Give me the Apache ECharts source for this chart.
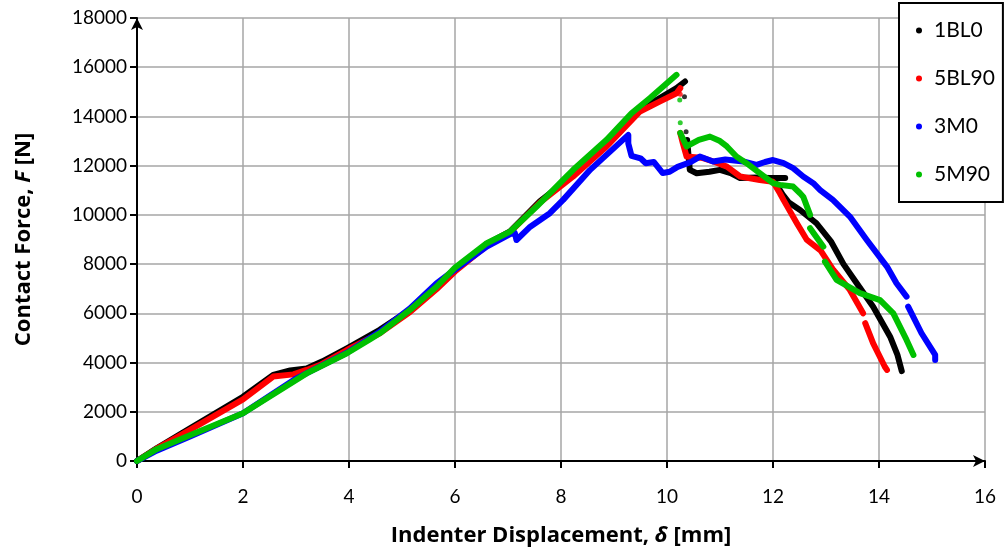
<!DOCTYPE html>
<html>
<head>
<meta charset="utf-8">
<script src="https://cdn.jsdelivr.net/npm/echarts@6/dist/echarts.min.js"></script>
<style>
  html, body { margin: 0; padding: 0; background: #fff; }
  #chart { width: 1008px; height: 553px; }
</style>
</head>
<body>
<div id="chart"></div>
<script>
// Indentation test: contact force vs indenter displacement, four specimens.
// null marks a break in the recorded trace.
const seriesNames = ['1BL0', '5BL90', '3M0', '5M90'];
const seriesColors = ['#000000', '#ff0000', '#0000ff', '#00c000'];

const xTicks = [0, 2, 4, 6, 8, 10, 12, 14, 16];
const yTicks = [0, 2000, 4000, 6000, 8000, 10000, 12000, 14000, 16000, 18000];

const curve1BL0 = [
  [0, 0], [0.37, 520], [1, 1330], [2, 2610], [2.57, 3500], [2.89, 3680], [3.2, 3760],
  [3.5, 4050], [3.96, 4580], [4.58, 5330], [5.15, 6150], [5.65, 7050], [6, 7750],
  [6.6, 8820], [7.04, 9330], [7.6, 10550], [8.23, 11620], [8.86, 12850], [9.49, 14270],
  [10.18, 15150], [10.34, 15420],
  null,
  [10.38, 13040], [10.43, 11830], [10.56, 11690], [10.8, 11750], [11, 11830], [11.2, 11700],
  [11.38, 11500], [11.7, 11520], [11.94, 11500], [12.23, 11500],
  null,
  [12.05, 11290], [12.19, 10800], [12.3, 10500], [12.51, 10200], [12.82, 9660], [13.1, 8900],
  [13.33, 8000], [13.58, 7220], [13.89, 6270], [14.21, 5050], [14.35, 4300], [14.43, 3650]
];
const curve5BL90 = [
  [0, 0], [0.37, 500], [1, 1260], [2, 2500], [2.57, 3430], [2.95, 3520], [3.2, 3700],
  [3.45, 3900], [3.96, 4510], [4.58, 5190], [5.15, 6050], [5.65, 6980], [6, 7700],
  [6.6, 8750], [7.04, 9300], [7.6, 10500], [8.23, 11560], [8.86, 12780], [9.49, 14200],
  [9.87, 14610], [10.18, 14940], [10.25, 15150],
  null,
  [10.25, 13330], [10.3, 12900], [10.37, 12370], [10.68, 12310], [10.9, 12150], [11.13, 11960],
  [11.38, 11560], [11.75, 11420], [12, 11350], [12.13, 10880], [12.2, 10600], [12.45, 9660],
  [12.64, 8980], [12.9, 8550], [13.14, 7760], [13.45, 6950], [13.7, 6000],
  null,
  [13.74, 5600], [13.89, 4780], [14.11, 3830], [14.15, 3700]
];
const curve3M0 = [
  [0, 0], [0.37, 420], [1, 1000], [2, 1940], [3, 3350], [3.96, 4400], [4.58, 5250],
  [5.15, 6200], [5.65, 7220], [6, 7780], [6.6, 8710], [7.04, 9220], [7.13, 9260],
  [7.16, 8980], [7.42, 9520], [7.79, 10070], [8.04, 10610], [8.55, 11830], [9.27, 13250],
  [9.27, 12900], [9.33, 12400], [9.5, 12300], [9.6, 12100], [9.75, 12150], [9.92, 11700],
  [10.05, 11750], [10.2, 11950], [10.45, 12150], [10.62, 12370], [10.87, 12170], [11.1, 12250],
  [11.44, 12170], [11.69, 12030], [11.85, 12150], [12, 12230], [12.2, 12100], [12.38, 11900],
  [12.57, 11560], [12.76, 11290], [12.89, 11010], [13.13, 10610], [13.45, 9930], [13.77, 8980],
  [14.15, 7900], [14.33, 7220], [14.52, 6680],
  null,
  [14.55, 6270], [14.8, 5200], [15.06, 4310], [15.06, 4100]
];
const curve5M90 = [
  [0, 0], [0.37, 480], [1, 1050], [2, 1940], [3.2, 3560], [3.96, 4380], [4.4, 4950],
  [4.58, 5190], [5.15, 6140], [5.65, 7080], [6, 7860], [6.6, 8850], [7.04, 9320],
  [7.54, 10340], [8.04, 11420], [8.23, 11830], [8.86, 13050], [9.33, 14130], [9.68, 14750],
  [10.18, 15690],
  null,
  [10.25, 13330], [10.37, 12780], [10.6, 13050], [10.81, 13180], [11, 13000], [11.13, 12780],
  [11.31, 12370], [11.5, 12100], [11.75, 11700], [12, 11290], [12.13, 11220], [12.38, 11150],
  [12.51, 10880], [12.57, 10740], [12.7, 10000],
  null,
  [12.7, 9460], [12.95, 8710],
  null,
  [12.98, 8100], [13.2, 7360], [13.64, 6820], [14.02, 6540], [14.27, 6000], [14.52, 4920],
  [14.65, 4310]
];

// isolated readings recorded right after the peak load
const dots1BL0 = [[10.33, 14800], [10.36, 13380]];
const dots5BL90 = [[10.25, 14900]];
const dots3M0 = [];
const dots5M90 = [[10.24, 14670], [10.25, 13740]];

const curves = [curve1BL0, curve5BL90, curve3M0, curve5M90];
const dots = [dots1BL0, dots5BL90, dots3M0, dots5M90];

const FONT = 'Lato, "Open Sans", sans-serif';
const TITLE_FONT = '"Open Sans", Lato, sans-serif';

const toData = arr => arr.map(p => (p === null ? ['-', '-'] : p));

const series = [];
seriesNames.forEach((name, i) => {
  series.push({
    name: name,
    type: 'line',
    data: toData(curves[i]),
    showSymbol: false,
    connectNulls: false,
    smooth: false,
    lineStyle: { color: seriesColors[i], width: 6, cap: 'round', join: 'round' },
    itemStyle: { color: seriesColors[i] },
    z: 2 + i,
    silent: true,
    animation: false
  });
});
seriesNames.forEach((name, i) => {
  if (!dots[i].length) return;
  series.push({
    name: name + ' pts',
    type: 'scatter',
    data: dots[i],
    symbol: 'circle',
    symbolSize: 5,
    itemStyle: { color: seriesColors[i] },
    z: 2 + i,
    silent: true,
    animation: false
  });
});

const titleRich = {
  b: { fontFamily: TITLE_FONT, fontWeight: 'bold', fontSize: 22, color: '#000' },
  bi: { fontFamily: TITLE_FONT, fontWeight: 'bold', fontStyle: 'italic', fontSize: 22, color: '#000' }
};

const chart = echarts.init(document.getElementById('chart'), null, { renderer: 'canvas' });
chart.setOption({
  backgroundColor: '#ffffff',
  animation: false,
  grid: { left: 137, right: 23, top: 18, bottom: 92, containLabel: false },
  xAxis: {
    type: 'value',
    min: xTicks[0],
    max: xTicks[xTicks.length - 1],
    interval: xTicks[1] - xTicks[0],
    name: '{b|Indenter Displacement, }{bi|δ}{b| [mm]}',
    nameLocation: 'middle',
    nameGap: 64,
    nameTextStyle: { rich: titleRich },
    axisLine: { show: true, onZero: false, lineStyle: { color: '#000', width: 2 }, symbol: ['none', 'arrow'], symbolSize: [9, 12] },
    axisTick: { show: true, inside: false, length: 7, lineStyle: { color: '#000', width: 2 } },
    axisLabel: { color: '#000', fontFamily: FONT, fontSize: 19, margin: 26, formatter: v => String(v) },
    splitLine: { show: true, lineStyle: { color: '#a6a6a6', width: 1.5 } }
  },
  yAxis: {
    type: 'value',
    min: yTicks[0],
    max: yTicks[yTicks.length - 1],
    interval: yTicks[1] - yTicks[0],
    name: '{b|Contact Force, }{bi|F}{b| [N]}',
    nameLocation: 'middle',
    nameGap: 102,
    nameRotate: 90,
    nameTextStyle: { rich: titleRich },
    axisLine: { show: true, onZero: false, lineStyle: { color: '#000', width: 2 }, symbol: ['none', 'arrow'], symbolSize: [9, 12] },
    axisTick: { show: true, inside: false, length: 7, lineStyle: { color: '#000', width: 2 } },
    axisLabel: { color: '#000', fontFamily: FONT, fontSize: 19, margin: 10, formatter: v => String(v) },
    splitLine: { show: true, lineStyle: { color: '#a6a6a6', width: 1.5 } }
  },
  legend: {
    orient: 'vertical',
    left: 899,
    top: 3,
    padding: [17, 8, 17, 17],
    itemGap: 27,
    itemWidth: 6,
    itemHeight: 6,
    backgroundColor: '#ffffff',
    borderColor: '#000000',
    borderWidth: 2,
    borderRadius: 0,
    icon: 'circle',
    data: seriesNames,
    textStyle: { color: '#000', fontFamily: FONT, fontSize: 21, padding: [0, 0, 0, 7] },
    selectedMode: false
  },
  series: series
});
</script>
</body>
</html>
